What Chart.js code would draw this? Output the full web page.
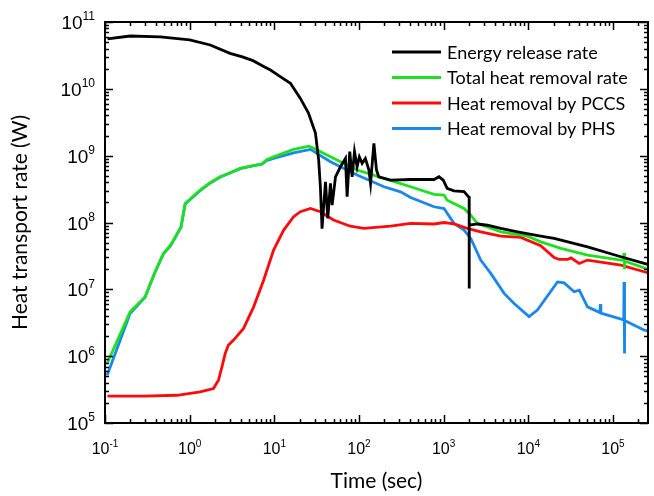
<!DOCTYPE html>
<html>
<head>
<meta charset="utf-8">
<script src="https://cdn.jsdelivr.net/npm/chart.js@4/dist/chart.umd.min.js"></script>
<style>
  html, body { margin: 0; padding: 0; background: #fff; }
</style>
</head>
<body>
<canvas id="heatChart" width="654" height="496"></canvas>
<script>
// DATA
const releaseTime = [0.107, 0.198, 0.45, 1.0, 1.75, 3.0, 4.2, 5.6, 7.3, 9.0, 12.0, 15.5, 20.3, 25.3, 30.6, 33.4, 35, 36.6, 40.2, 42.8, 46, 48.2, 52.8, 60.4, 69.2, 72.4, 77.8, 83, 88.5, 95, 101, 109, 119, 131, 137, 150, 161, 171, 236, 407, 770, 881, 989, 1100, 1325, 1740, 1960, 2000, 2000, 2010, 2500, 3290, 4730, 7450, 14000, 20200, 50000, 124000, 257000];
const releaseRate = [5.57e10, 6.17e10, 6.0e10, 5.4e10, 4.53e10, 3.4e10, 3.0e10, 2.64e10, 2.2e10, 1.91e10, 1.5e10, 1.21e10, 7.2e9, 4.35e9, 2.18e9, 8.6e8, 3.4e8, 8.1e7, 4.07e8, 1.15e8, 3.85e8, 1.82e8, 4.83e8, 6.82e8, 9.1e8, 2.43e8, 1.15e9, 4.83e8, 1.15e9, 6.8e8, 9.6e8, 7.7e8, 9.1e8, 6.1e8, 3.85e8, 1.53e9, 6.1e8, 4.83e8, 4.3e8, 4.4e8, 4.4e8, 4.83e8, 4.3e8, 3.24e8, 2.98e8, 2.9e8, 2.43e8, 2.4e8, 1.03e7, 9.1e7, 9.5e7, 9.1e7, 8.15e7, 7.26e7, 6.25e7, 5.78e7, 4.33e7, 3.07e7, 2.36e7];

const totalTime = [0.106, 0.198, 0.297, 0.39, 0.49, 0.598, 0.79, 0.885, 1.33, 1.75, 2.3, 3.0, 3.96, 5.2, 7.1, 8.2, 9.8, 16.9, 25.5, 29.2, 46, 95, 197, 407, 770, 1010, 1100, 1740, 2090, 2500, 3290, 4730, 9770, 14000, 24300, 50000, 124000, 133000, 135000, 136000, 138000, 257000];
const totalRate = [7.8e5, 4.6e6, 7.7e6, 1.83e7, 3.44e7, 4.6e7, 8.6e7, 1.93e8, 3.05e8, 3.93e8, 4.83e8, 5.55e8, 6.45e8, 6.98e8, 7.5e8, 8.8e8, 9.6e8, 1.24e9, 1.39e9, 1.29e9, 9.6e8, 6.1e8, 4.57e8, 3.43e8, 2.63e8, 2.57e8, 2.16e8, 1.62e8, 1.29e8, 9.7e7, 8.6e7, 7.26e7, 6.25e7, 5.14e7, 4.1e7, 3.25e7, 2.74e7, 2.72e7, 3.5e7, 2.0e7, 2.65e7, 2.0e7];

const pccsTime = [0.107, 0.284, 0.71, 1.33, 1.91, 2.19, 2.43, 2.63, 2.86, 3.3, 4.33, 5.7, 7.47, 9.8, 12.9, 16.9, 20.3, 26.7, 35, 50, 79, 114, 236, 407, 770, 1010, 1325, 1900, 2740, 4730, 8150, 14000, 20200, 23200, 29100, 31800, 39900, 50000, 124000, 257000];
const pccsRate = [2.52e5, 2.52e5, 2.6e5, 2.92e5, 3.28e5, 4.37e5, 7.3e5, 1.1e6, 1.46e6, 1.74e6, 2.6e6, 5.47e6, 1.37e7, 3.86e7, 7.7e7, 1.22e8, 1.45e8, 1.62e8, 1.45e8, 1.09e8, 8.8e7, 8.15e7, 8.8e7, 9.7e7, 9.5e7, 1.0e8, 9.5e7, 8.15e7, 7.26e7, 6.25e7, 5.97e7, 4.5e7, 3.0e7, 2.8e7, 2.8e7, 2.95e7, 2.44e7, 2.74e7, 2.3e7, 1.77e7];

const phsTime = [0.106, 0.198, 0.297, 0.39, 0.49, 0.598, 0.79, 0.885, 1.33, 1.75, 2.3, 3.0, 3.96, 5.2, 7.1, 8.2, 9.8, 16.9, 26.7, 46, 95, 197, 310, 407, 770, 1010, 1325, 1740, 2090, 2740, 3600, 5180, 6790, 10200, 12800, 22100, 26500, 34800, 40000, 50000, 70000, 71000, 72000, 134000, 135000, 136000, 138000, 162000, 235000, 257000];
const phsRate = [5.2e5, 4.36e6, 7.6e6, 1.8e7, 3.4e7, 4.55e7, 8.5e7, 1.9e8, 3.0e8, 3.9e8, 4.8e8, 5.5e8, 6.4e8, 6.9e8, 7.45e8, 8.5e8, 9.1e8, 1.1e9, 1.24e9, 8.1e8, 5.13e8, 3.43e8, 2.88e8, 2.37e8, 1.72e8, 1.62e8, 9.7e7, 7.7e7, 5.78e7, 2.74e7, 1.73e7, 8.7e6, 6.15e6, 3.9e6, 4.9e6, 1.29e7, 1.25e7, 9.2e6, 9.7e6, 5.47e6, 4.5e6, 6.0e6, 4.4e6, 3.5e6, 1.29e7, 1.1e6, 3.4e6, 3.09e6, 2.45e6, 2.4e6];

const xTickExp = [-1, 0, 1, 2, 3, 4, 5];
const yTickExp = [5, 6, 7, 8, 9, 10, 11];

const xMin = 0.1, xMax = 259200;
const yMin = 1e5, yMax = 1e11;

function pairs(xs, ys) {
    return xs.map((t, i) => ({ x: t, y: ys[i] }));
}

// FRAME, INWARD TICKS, POWER-OF-TEN LABELS, LEGEND
const framePlugin = {
    id: "framePlugin",
    afterDraw(chart) {
        const { ctx, chartArea: a, scales } = chart;
        const sx = scales.x, sy = scales.y;
        ctx.save();
        ctx.strokeStyle = "#000";
        ctx.lineWidth = 1.5;

        const minorVals = (exps, lo, hi) => {
            const out = [];
            exps.forEach(e => {
                for (let k = 2; k <= 9; k++) {
                    const v = k * Math.pow(10, e);
                    if (v > lo && v < hi) out.push(v);
                }
            });
            return out;
        };
        const xMinor = minorVals(xTickExp, xMin, xMax);
        const yMinor = minorVals(yTickExp, yMin, yMax);

        ctx.beginPath();
        xTickExp.forEach(e => {
            const px = Math.round(sx.getPixelForValue(Math.pow(10, e))) + 0.5;
            ctx.moveTo(px, a.bottom); ctx.lineTo(px, a.bottom - 8);
            ctx.moveTo(px, a.top); ctx.lineTo(px, a.top + 8);
        });
        xMinor.forEach(v => {
            const px = Math.round(sx.getPixelForValue(v)) + 0.5;
            ctx.moveTo(px, a.bottom); ctx.lineTo(px, a.bottom - 4);
            ctx.moveTo(px, a.top); ctx.lineTo(px, a.top + 4);
        });
        yTickExp.forEach(e => {
            const py = Math.round(sy.getPixelForValue(Math.pow(10, e))) + 0.5;
            ctx.moveTo(a.left, py); ctx.lineTo(a.left + 8, py);
            ctx.moveTo(a.right, py); ctx.lineTo(a.right - 8, py);
        });
        yMinor.forEach(v => {
            const py = Math.round(sy.getPixelForValue(v)) + 0.5;
            ctx.moveTo(a.left, py); ctx.lineTo(a.left + 4, py);
            ctx.moveTo(a.right, py); ctx.lineTo(a.right - 4, py);
        });
        ctx.stroke();

        ctx.lineWidth = 2;
        ctx.strokeRect(a.left, a.top, a.right - a.left, a.bottom - a.top);

        // tick labels: "10" with a raised exponent
        const face = '"Liberation Sans", Arial, sans-serif';
        ctx.fillStyle = "#000";
        ctx.textBaseline = "alphabetic";
        ctx.textAlign = "left";
        const pow = (e, size) => {
            ctx.font = size + "px " + face;
            const wb = ctx.measureText("10").width;
            ctx.font = Math.round(size * 0.63) + "px " + face;
            const we = ctx.measureText(String(e)).width;
            return { wb, we };
        };
        const drawPow = (e, x0, base, size) => {
            const { wb } = pow(e, size);
            ctx.font = size + "px " + face;
            ctx.fillText("10", x0, base);
            ctx.font = Math.round(size * 0.63) + "px " + face;
            ctx.fillText(String(e), x0 + wb, base - size * 0.45);
        };
        xTickExp.forEach(e => {
            const px = sx.getPixelForValue(Math.pow(10, e));
            const { wb, we } = pow(e, 16);
            drawPow(e, px - (wb + we) / 2, a.bottom + 31, 16);
        });
        yTickExp.forEach(e => {
            const py = sy.getPixelForValue(Math.pow(10, e));
            const { wb, we } = pow(e, 19);
            drawPow(e, a.left - 10 - wb - we, py + 7, 19);
        });

        // legend inside the plot
        const rows = [52, 77.5, 103, 128.5];
        ctx.font = '18px Lato, "Open Sans", sans-serif';
        ctx.textBaseline = "middle";
        chart.data.datasets.forEach((ds, i) => {
            ctx.strokeStyle = ds.borderColor;
            ctx.lineWidth = 2.8;
            ctx.beginPath();
            ctx.moveTo(392, rows[i]);
            ctx.lineTo(441, rows[i]);
            ctx.stroke();
            ctx.fillStyle = "#000";
            ctx.fillText(ds.label, 447, rows[i] + 1);
        });
        ctx.restore();
    }
};

const line = (label, color, xs, ys) => ({
    label: label,
    data: pairs(xs, ys),
    borderColor: color,
    backgroundColor: color,
    borderWidth: 2.8,
    pointRadius: 0,
    tension: 0,
    fill: false
});

new Chart(document.getElementById("heatChart"), {
    type: "line",
    data: {
        datasets: [
            line("Energy release rate", "#000000", releaseTime, releaseRate),
            line("Total heat removal rate", "#1fe01f", totalTime, totalRate),
            line("Heat removal by PCCS", "#ff0a0a", pccsTime, pccsRate),
            line("Heat removal by PHS", "#1a87ee", phsTime, phsRate)
        ]
    },
    options: {
        responsive: false,
        devicePixelRatio: 1,
        animation: false,
        layout: { padding: { top: 22, right: 6, left: 0, bottom: 0 } },
        plugins: { legend: { display: false }, tooltip: { enabled: false } },
        scales: {
            x: {
                type: "logarithmic",
                min: xMin,
                max: xMax,
                position: "bottom",
                grid: { display: false },
                border: { display: false },
                ticks: { display: false },
                title: {
                    display: true,
                    text: "Time (sec)",
                    color: "#000",
                    font: { family: "Lato", size: 21 },
                    padding: { top: 0, bottom: 2 }
                },
                afterFit: s => { s.height = 73; }
            },
            y: {
                type: "logarithmic",
                min: yMin,
                max: yMax,
                position: "left",
                grid: { display: false },
                border: { display: false },
                ticks: { display: false },
                title: {
                    display: true,
                    text: "Heat transport rate (W)",
                    color: "#000",
                    font: { family: "Lato", size: 21 },
                    padding: { top: 8, bottom: 0 }
                },
                afterFit: s => { s.width = 105; }
            }
        }
    },
    plugins: [framePlugin]
});
</script>
</body>
</html>
